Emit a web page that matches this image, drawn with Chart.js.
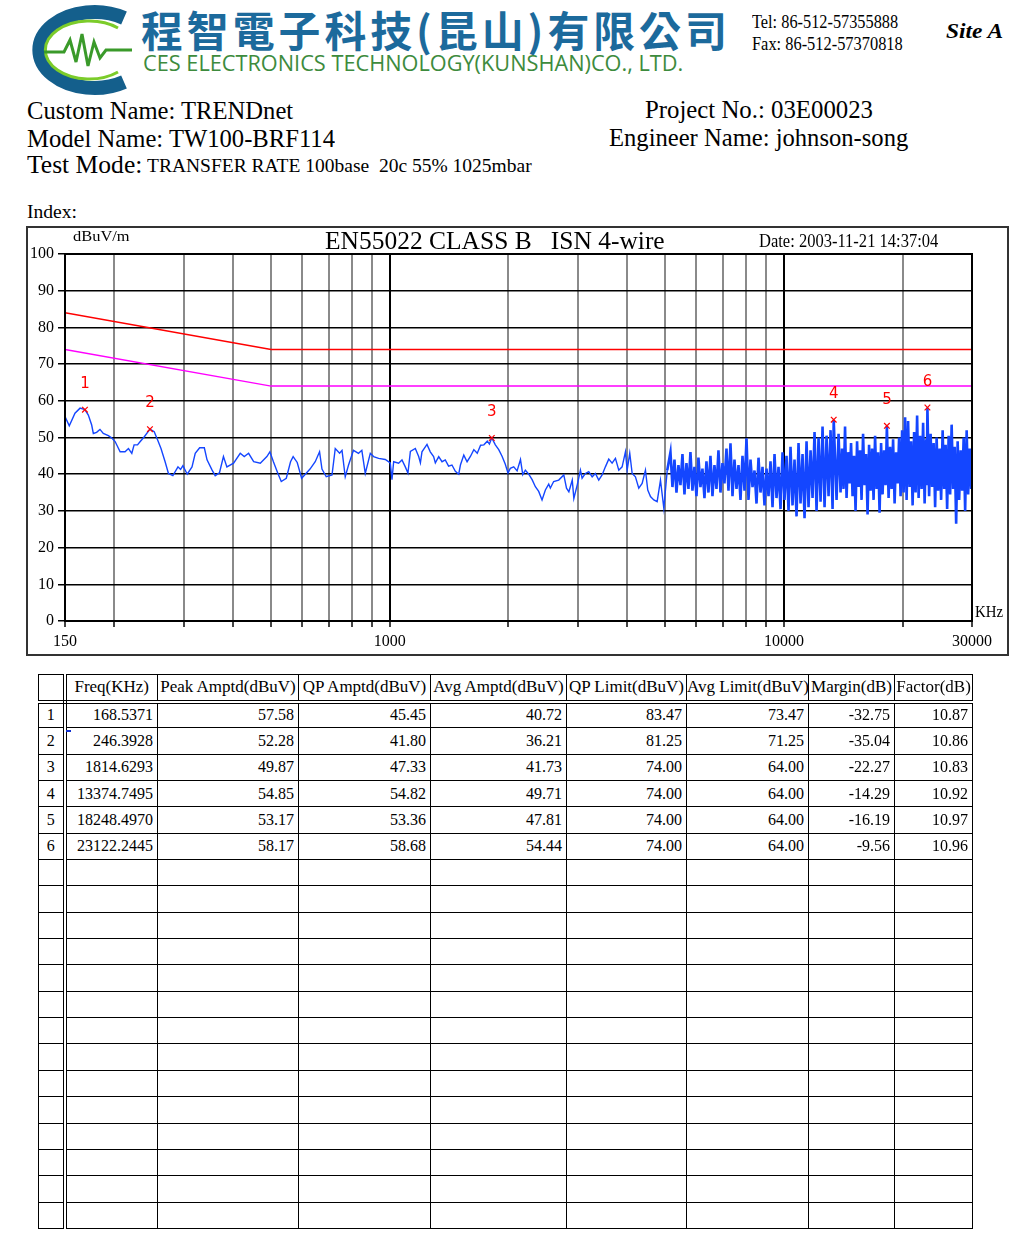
<!DOCTYPE html>
<html lang="zh-Hant">
<head>
<meta charset="UTF-8" />
<title>EN55022 CLASS B ISN 4-wire</title>
<script src="https://cdn.jsdelivr.net/npm/chart.js@4.4.0/dist/chart.umd.min.js"></script>
<style>
  body { margin: 0; background: #fff; color: #000; font-family: 'Liberation Serif', serif; }
  #page { position: relative; width: 1010px; height: 1234px; overflow: hidden; }
  .abs { position: absolute; white-space: nowrap; line-height: 1; transform-origin: 0 0; }
  .cn { font-family: 'Noto Sans CJK TC', sans-serif; font-weight: 700; font-size: 42px; color: #1c6a9c; letter-spacing: 4px; }
  .en { font-family: 'Open Sans', sans-serif; font-size: 21px; color: #3d8b3d; }
  .tel { font-size: 19px; }
  .site { font-size: 21px; font-weight: bold; font-style: italic; }
  .big { font-size: 26px; }
  .mid { font-size: 19px; }
  #frame { position: absolute; left: 26px; top: 226px; width: 983px; height: 430px; border: 2px solid #333; box-sizing: border-box; }
  #emi { position: absolute; left: 27px; top: 227px; }
  #peaks { position: absolute; left: 38px; top: 674px; width: 934px; border-collapse: collapse; table-layout: fixed; font-size: 16px; }
  #peaks th, #peaks td { border: 1px solid #000; padding: 0 4px 0 2px; white-space: nowrap; overflow: hidden; }
  #peaks th { font-weight: normal; font-size: 17px; text-align: center; padding: 0; }
  #peaks td { text-align: right; }
  #peaks th:first-child, #peaks td:first-child { border-right: 4px double #000; text-align: center; padding: 0; }
  #peaks thead th { border-bottom: 4px double #000; }
  #peaks thead tr { height: 27px; }
  #peaks tbody tr { height: 26.35px; }
</style>
</head>
<body>
<div id="page">
  <svg width="140" height="100" style="position:absolute;left:0;top:0">
    <path d="M 124 18 A 55 38 0 1 0 124 82" stroke="#145f8c" stroke-width="14" fill="none" />
    <path d="M 118 28 A 44 29 0 1 0 118 72" stroke="#7ccc2a" stroke-width="3" fill="none" />
    <polyline points="44,52 64,52 70,40 76,62 82,34 88,66 94,42 100,58 106,50 132,50" stroke="#3a9a2a" stroke-width="3" fill="none" />
  </svg>
  <div class="abs cn" data-w="590" style="left:141px;top:8px;">程智電子科技(昆山)有限公司</div>
  <div class="abs en" data-w="540" style="left:143px;top:53px;">CES ELECTRONICS TECHNOLOGY(KUNSHAN)CO., LTD.</div>
  <div class="abs tel" data-w="146" style="left:752px;top:12px;">Tel: 86-512-57355888</div>
  <div class="abs tel" data-w="151" style="left:752px;top:34px;">Fax: 86-512-57370818</div>
  <div class="abs site" data-w="57" style="left:946px;top:21px;">Site A</div>

  <div class="abs big" data-w="266" style="left:27px;top:98px;">Custom Name: TRENDnet</div>
  <div class="abs big" data-w="308" style="left:27px;top:126px;">Model Name: TW100-BRF114</div>
  <div class="abs big" data-w="115" style="left:27px;top:152px;">Test Mode:</div>
  <div class="abs mid" data-w="385" style="left:147px;top:156px;">TRANSFER RATE 100base&nbsp;&nbsp;20c 55% 1025mbar</div>
  <div class="abs big" data-w="228" style="left:645px;top:97px;">Project No.: 03E00023</div>
  <div class="abs big" data-w="299" style="left:609px;top:125px;">Engineer Name: johnson-song</div>
  <div class="abs" data-w="50" style="left:27px;top:203px;font-size:18px;">Index:</div>

  <div id="frame"></div>
  <canvas id="emi" width="981" height="428"></canvas>
  <div class="abs big" data-w="340" style="left:325px;top:228px;">EN55022 CLASS B&nbsp;&nbsp;&nbsp;ISN 4-wire</div>
  <div class="abs" data-w="179" style="left:759px;top:232px;font-size:18px;">Date: 2003-11-21 14:37:04</div>
  <div class="abs" data-w="57" style="left:73px;top:229px;font-size:15px;">dBuV/m</div>
  <div class="abs" data-w="28" style="left:975px;top:603px;font-size:17px;">KHz</div>

  <table id="peaks">
    <colgroup>
      <col style="width:26px"><col style="width:93px"><col style="width:141px"><col style="width:132px">
      <col style="width:136px"><col style="width:120px"><col style="width:122px"><col style="width:86px"><col style="width:78px">
    </colgroup>
    <thead><tr></tr></thead>
    <tbody></tbody>
  </table>
  <div style="position:absolute;left:66px;top:730px;width:5px;height:2px;background:#1030d0"></div>
</div>

<script>
  // axis setup
  const xGrid = [150, 200, 300, 400, 500, 600, 700, 800, 900, 1000,
                 2000, 3000, 4000, 5000, 6000, 7000, 8000, 9000, 10000, 20000, 30000];
  const xLabels = [150, 1000, 10000, 30000];
  const xMajor = [1000, 10000];

  // limit lines (kHz / dBuV)
  const limitKHz = [150, 500, 30000];
  const qpLimitLine = [84, 74, 74];
  const avgLimitLine = [74, 64, 64];

  // peak list (also the table)
  const peakFreq = [168.5371, 246.3928, 1814.6293, 13374.7495, 18248.4970, 23122.2445];
  const peakAmp = [57.58, 52.28, 49.87, 54.85, 53.17, 58.17];
  const qpAmp = [45.45, 41.80, 47.33, 54.82, 53.36, 58.68];
  const avgAmp = [40.72, 36.21, 41.73, 49.71, 47.81, 54.44];
  const qpLimit = [83.47, 81.25, 74.00, 74.00, 74.00, 74.00];
  const avgLimit = [73.47, 71.25, 64.00, 64.00, 64.00, 64.00];
  const margin = [-32.75, -35.04, -22.27, -14.29, -16.19, -9.56];
  const factor = [10.87, 10.86, 10.83, 10.92, 10.97, 10.96];
  const headers = ['', 'Freq(KHz)', 'Peak Amptd(dBuV)', 'QP Amptd(dBuV)', 'Avg Amptd(dBuV)',
                   'QP Limit(dBuV)', 'Avg Limit(dBuV)', 'Margin(dB)', 'Factor(dB)'];

  // scan trace, [kHz, dBuV]
  const scanLow = [
    [150, 55.7], [153.8, 53.2], [159, 56.6], [163.8, 58.0], [168.5, 57.6], [171.9, 56.1], [175.3, 53.4],
    [177, 51.1], [180.4, 51.4], [184, 52.2], [187.6, 51.1], [193.2, 50.5], [196.9, 49.9], [201, 48.9],
    [207, 46.1], [213, 46.1], [217.3, 47.0], [221.6, 45.7], [224.6, 48.0], [229.1, 48.0], [232.8, 48.9],
    [238.4, 50.2], [246.4, 52.3], [252.6, 51.6], [257.7, 49.3], [262.8, 47.0], [269.2, 43.4], [274.5, 40.2],
    [281.7, 39.6], [290.2, 42.0], [294.6, 41.3], [298.7, 42.3], [306.4, 40.0], [315, 42.0], [321, 45.7],
    [329.4, 47.2], [338.5, 47.2], [343.9, 43.9], [354.2, 41.1], [360.7, 39.6], [369.8, 40.4], [378.5, 44.8],
    [386.2, 42.0], [401.6, 43.0], [417.5, 45.7], [427.4, 44.8], [438.4, 45.7], [451.6, 43.4], [469.4, 43.0],
    [487.8, 44.8], [496.5, 46.1], [506.8, 43.4], [520.3, 40.2], [530.6, 38.0], [546.4, 38.9], [560.1, 43.4],
    [568.7, 44.8], [582.4, 43.2], [597.6, 38.9], [613, 40.2], [627.6, 41.4], [647, 43.4], [663.6, 46.1],
    [673, 41.4], [690, 39.3], [713.7, 39.8], [727.3, 47.0], [746, 45.7], [756.6, 46.5], [771, 39.3],
    [786, 42.5], [809, 46.5], [833, 45.7], [849.5, 46.5], [866.7, 40.2], [892.5, 45.7], [910, 44.8],
    [937, 44.3], [974, 44.0], [1003, 43.1], [1013, 38.5], [1023, 43.4], [1053, 43.0], [1074, 43.9],
    [1095, 42.0], [1112, 40.3], [1128, 46.2], [1161, 47.0], [1184, 44.8], [1196, 43.1], [1207, 46.1],
    [1243, 48.1], [1267, 46.1], [1292, 44.8], [1305, 43.1], [1331, 44.8], [1357, 43.4], [1383, 43.9],
    [1410, 42.2], [1438, 42.5], [1467, 40.8], [1496, 40.0], [1511, 42.5], [1541, 45.2], [1571, 43.4],
    [1603, 44.9], [1634, 46.7], [1667, 45.7], [1700, 47.9], [1733, 48.0], [1768, 49.0], [1790, 48.2],
    [1815, 49.9], [1853, 48.0], [1890, 46.7], [1927, 44.9], [1964, 42.7], [1995, 40.3], [2022, 41.6],
    [2063, 42.0], [2104, 40.9], [2146, 44.0], [2175, 39.9], [2208, 41.1], [2252, 40.0], [2297, 38.5],
    [2341, 36.6], [2387, 35.3], [2434, 33.0], [2482, 35.7], [2531, 37.3], [2555, 36.2], [2605, 38.0],
    [2683, 38.4], [2764, 39.8], [2808, 36.2], [2847, 35.2], [2904, 38.4], [2931, 33.4], [2990, 37.1],
    [3046, 41.1], [3076, 38.9], [3136, 40.2], [3198, 40.7], [3262, 39.3], [3324, 40.2], [3390, 38.4],
    [3457, 39.8], [3524, 42.0], [3594, 44.1], [3665, 43.0], [3737, 44.3], [3811, 41.1], [3886, 42.0],
    [3962, 46.1], [4002, 41.1], [4063, 45.7], [4121, 40.2], [4200, 39.3], [4283, 36.2], [4368, 37.5],
    [4453, 41.1], [4514, 35.7], [4586, 33.9], [4676, 33.0], [4768, 32.5], [4862, 38.4], [4958, 30.7],
    [5058, 41.1]
  ];
  const scanHigh = [
    [5058, 41.1],
    [5154, 46.0], [5214, 36.5], [5276, 44.0], [5338, 35.0], [5400, 42.5], [5464, 37.0], [5528, 45.5],
    [5593, 34.5], [5659, 43.0], [5725, 36.0], [5792, 46.0], [5860, 35.5], [5929, 42.0], [5999, 34.0],
    [6069, 44.5], [6141, 36.5], [6213, 41.5], [6286, 33.5], [6360, 43.5], [6435, 35.0], [6510, 45.0],
    [6587, 34.0], [6664, 42.5], [6743, 36.0], [6822, 46.5], [6902, 35.0], [6983, 43.0], [7065, 37.5],
    [7149, 47.0], [7233, 35.5], [7318, 48.4], [7404, 34.0], [7491, 44.0], [7580, 36.0], [7669, 42.5],
    [7759, 33.0], [7850, 45.0], [7943, 35.5], [8036, 49.8], [8131, 33.0], [8226, 44.0], [8323, 36.5],
    [8421, 41.0], [8520, 32.0], [8620, 44.5], [8721, 35.0], [8824, 42.0], [8927, 31.5], [9033, 41.5],
    [9139, 34.0], [9246, 43.5], [9355, 31.0], [9465, 45.5], [9576, 33.5], [9689, 42.0], [9803, 30.5],
    [9918, 46.0], [10035, 33.0], [10153, 45.0], [10272, 30.0], [10393, 47.5], [10515, 31.5], [10638, 44.0],
    [10764, 28.5], [10890, 48.5], [11018, 32.0], [11148, 45.5], [11279, 28.0], [11412, 49.0], [11546, 31.0],
    [11682, 46.5], [11819, 33.5], [11958, 51.5], [12099, 30.0], [12241, 50.0], [12385, 32.5], [12530, 53.0],
    [12678, 31.0], [12827, 50.5], [12978, 34.0], [13130, 52.0], [13285, 30.5], [13375, 54.8], [13599, 33.0],
    [13759, 51.0], [13920, 35.0], [14043, 47.0], [14166, 36.0], [14291, 53.0], [14417, 33.5], [14544, 46.0],
    [14672, 37.5], [14801, 48.5], [14931, 34.0], [15063, 45.0], [15196, 30.0], [15330, 49.0], [15465, 36.5],
    [15601, 46.5], [15738, 33.0], [15877, 51.0], [16017, 37.0], [16158, 45.5], [16300, 29.0], [16444, 48.0],
    [16589, 35.5], [16735, 47.0], [16882, 33.0], [17031, 50.5], [17181, 36.0], [17332, 46.0], [17485, 29.5],
    [17639, 48.5], [17794, 34.5], [17951, 46.5], [18109, 37.0], [18248, 53.2], [18430, 33.5], [18592, 47.5],
    [18756, 36.0], [18921, 49.5], [19088, 32.0], [19256, 46.0], [19426, 37.5], [19597, 50.0], [19769, 34.0],
    [19943, 52.0], [20119, 35.0], [20296, 55.5], [20475, 33.0], [20655, 54.5], [20837, 36.5], [21021, 49.0],
    [21206, 31.5], [21393, 51.5], [21581, 35.0], [21771, 56.0], [21963, 33.5], [22156, 50.5], [22351, 36.0],
    [22548, 54.0], [22747, 32.0], [22947, 49.5], [23030, 37.0], [23122, 58.2], [23353, 34.0], [23559, 51.0],
    [23766, 36.5], [23976, 48.5], [24187, 31.0], [24400, 50.0], [24615, 35.5], [24832, 47.0], [25050, 33.0],
    [25271, 52.0], [25494, 36.0], [25718, 48.0], [25945, 30.5], [26173, 50.5], [26404, 34.5], [26636, 53.5],
    [26871, 36.0], [27108, 47.5], [27347, 26.5], [27588, 49.0], [27831, 33.0], [28076, 46.5], [28323, 35.5],
    [28573, 50.0], [28824, 30.0], [29078, 52.0], [29334, 34.5], [29593, 47.0], [29853, 36.0], [30000, 40.0]
  ];

  const toXY = (xs, ys) => xs.map((x, i) => ({ x: x, y: ys[i] }));
  const pairsXY = list => list.map(p => ({ x: p[0], y: p[1] }));

  // frame around plot + marker numbers
  const overlay = {
    id: 'overlay',
    afterDatasetsDraw(chart) {
      const { ctx, chartArea: a } = chart;
      ctx.save();
      ctx.strokeStyle = '#000';
      ctx.lineWidth = 2;
      ctx.strokeRect(a.left, a.top, a.right - a.left, a.bottom - a.top);
      const meta = chart.getDatasetMeta(0);
      ctx.fillStyle = '#ff0000';
      ctx.font = '15px "DejaVu Sans"';
      ctx.textAlign = 'center';
      meta.data.forEach((pt, i) => ctx.fillText(String(i + 1), pt.x, pt.y - 22));
      ctx.restore();
    }
  };

  new Chart(document.getElementById('emi'), {
    type: 'line',
    data: {
      datasets: [
        {
          label: 'Peaks',
          data: toXY(peakFreq, peakAmp),
          showLine: false,
          pointStyle: 'crossRot',
          pointRadius: 4,
          pointBorderColor: '#ff0000',
          pointBorderWidth: 1.2,
          order: 0
        },
        {
          label: 'QP Limit',
          data: toXY(limitKHz, qpLimitLine),
          borderColor: '#ff0000',
          borderWidth: 1.5,
          pointRadius: 0,
          order: 1
        },
        {
          label: 'AV Limit',
          data: toXY(limitKHz, avgLimitLine),
          borderColor: '#ff00ff',
          borderWidth: 1.5,
          pointRadius: 0,
          order: 1
        },
        {
          label: 'Scan',
          data: pairsXY(scanLow),
          borderColor: '#1446ff',
          borderWidth: 1.4,
          pointRadius: 0,
          order: 2
        },
        {
          label: 'Scan HF',
          data: pairsXY(scanHigh),
          borderColor: '#1446ff',
          borderWidth: 2.6,
          pointRadius: 0,
          order: 2
        }
      ]
    },
    options: {
      responsive: false,
      animation: false,
      layout: { padding: { top: 27, right: 36, left: 0, bottom: 0 } },
      plugins: { legend: { display: false }, tooltip: { enabled: false } },
      scales: {
        x: {
          type: 'logarithmic',
          min: 150,
          max: 30000,
          afterBuildTicks(scale) { scale.ticks = xGrid.map(v => ({ value: v })); },
          afterFit(scale) { scale.height = 34; },
          border: { display: false },
          grid: {
            color: c => xMajor.includes(c.tick.value) ? '#000' : '#8a8a8a',
            lineWidth: 2,
            tickLength: 6,
            tickColor: '#444'
          },
          ticks: {
            autoSkip: false,
            maxRotation: 0,
            padding: 5,
            color: '#000',
            font: { family: 'Liberation Serif', size: 16 },
            callback: v => xLabels.includes(v) ? String(v) : ''
          }
        },
        y: {
          min: 0,
          max: 100,
          afterFit(scale) { scale.width = 38; },
          border: { display: false },
          grid: { color: '#000', lineWidth: 1.5, tickLength: 7 },
          ticks: {
            stepSize: 10,
            padding: 4,
            color: '#000',
            font: { family: 'Liberation Serif', size: 16 }
          }
        }
      }
    },
    plugins: [overlay]
  });

  // table
  const headRow = document.querySelector('#peaks thead tr');
  headers.forEach(h => {
    const th = document.createElement('th');
    th.textContent = h;
    headRow.appendChild(th);
  });
  const tbody = document.querySelector('#peaks tbody');
  for (let r = 0; r < 20; r++) {
    const tr = document.createElement('tr');
    const cells = r < peakFreq.length
      ? [r + 1, peakFreq[r].toFixed(4), peakAmp[r].toFixed(2), qpAmp[r].toFixed(2), avgAmp[r].toFixed(2),
         qpLimit[r].toFixed(2), avgLimit[r].toFixed(2), margin[r].toFixed(2), factor[r].toFixed(2)]
      : Array(9).fill('');
    cells.forEach(v => {
      const td = document.createElement('td');
      td.textContent = v;
      tr.appendChild(td);
    });
    tbody.appendChild(tr);
  }

  // squeeze text blocks to the widths seen on the sheet
  function fitText() {
    document.querySelectorAll('[data-w]').forEach(el => {
      el.style.transform = 'scaleX(' + (+el.dataset.w / el.offsetWidth) + ')';
    });
  }
  document.fonts.ready.then(fitText);
</script>
</body>
</html>
